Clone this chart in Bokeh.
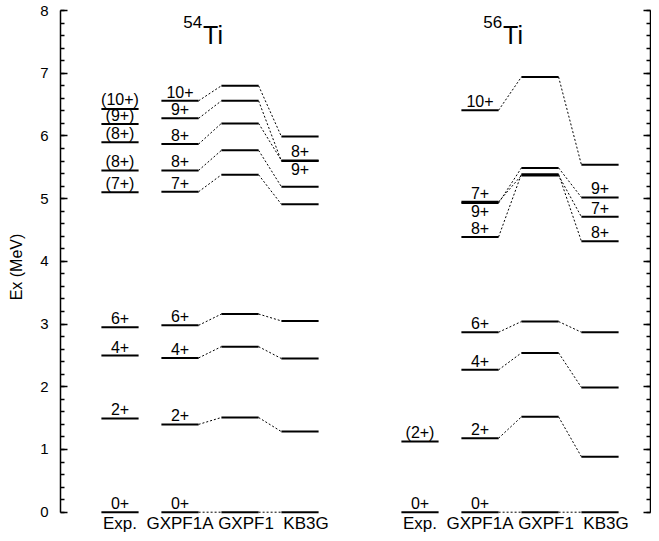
from bokeh.plotting import figure
from bokeh.models import ColumnDataSource, Range1d, LinearAxis, SingleIntervalTicker
from bokeh.embed import file_html
from bokeh.resources import INLINE
from bokeh.core.properties import value

# ---------------- data ----------------
models = ["Exp.", "GXPF1A", "GXPF1", "KB3G"]

# 54Ti
ti54_exp_E = [0.0, 1.495, 2.497, 2.949, 5.10, 5.45, 5.90, 6.19, 6.43]
ti54_exp_J = ["0+", "2+", "4+", "6+", "(7+)", "(8+)", "(8+)", "(9+)", "(10+)"]
ti54_gxpf1a_E = [0.0, 1.40, 2.46, 2.98, 5.11, 5.45, 5.87, 6.28, 6.56]
ti54_gxpf1_E = [0.0, 1.51, 2.64, 3.16, 5.38, 5.77, 6.20, 6.56, 6.80]
ti54_kb3g_E = [0.0, 1.285, 2.45, 3.05, 4.91, 5.19, 5.61, 5.60, 5.99]
ti54_gxpf1a_lab = ["0+", "2+", "4+", "6+", "7+", "8+", "8+", "9+", "10+"]
ti54_gxpf1_lab = ["", "", "", "", "", "", "", "", ""]
ti54_kb3g_lab = ["", "", "", "", "", "", "8+", "9+", ""]

# 56Ti
ti56_exp_E = [0.0, 1.128]
ti56_exp_J = ["0+", "(2+)"]
ti56_gxpf1a_E = [0.0, 1.18, 2.27, 2.87, 4.95, 4.39, 4.93, 6.41]
ti56_gxpf1_E = [0.0, 1.52, 2.54, 3.04, 5.37, 5.39, 5.49, 6.94]
ti56_kb3g_E = [0.0, 0.885, 1.99, 2.87, 4.71, 4.32, 5.02, 5.54]
ti56_gxpf1a_lab = ["0+", "2+", "4+", "6+", "7+", "8+", "9+", "10+"]
ti56_gxpf1_lab = ["", "", "", "", "", "", "", ""]
ti56_kb3g_lab = ["", "", "", "", "7+", "8+", "9+", ""]

titles = [("54", "Ti"), ("56", "Ti")]

# ---------------- style ----------------
FONT = "Liberation Sans"
HW = 0.31            # half width of a level bar (column units)
GROUP_BASE = [0, 5]  # first column of each nucleus
LABEL_SHIFT = [0.0, 0.0, 0.1, 0.1]

nuclei = [
    (ti54_exp_E, ti54_exp_J,
     [(ti54_gxpf1a_E, ti54_gxpf1a_lab), (ti54_gxpf1_E, ti54_gxpf1_lab), (ti54_kb3g_E, ti54_kb3g_lab)]),
    (ti56_exp_E, ti56_exp_J,
     [(ti56_gxpf1a_E, ti56_gxpf1a_lab), (ti56_gxpf1_E, ti56_gxpf1_lab), (ti56_kb3g_E, ti56_kb3g_lab)]),
]

lev = dict(x0=[], x1=[], y=[])
lab_up = dict(x=[], y=[], text=[])
lab_dn = dict(x=[], y=[], text=[])
con = dict(x0=[], x1=[], y0=[], y1=[])
cat = dict(x=[], y=[], text=[])


def add_column(col, energies, labels):
    for e in energies:
        lev["x0"].append(col - HW)
        lev["x1"].append(col + HW)
        lev["y"].append(e)
    for i, (e, t) in enumerate(zip(energies, labels)):
        if not t:
            continue
        # a labelled level nearly coincident with a higher labelled one gets its label below
        below = any(j != i and labels[j] and 0 < energies[j] - e < 0.05 for j in range(len(energies)))
        d = lab_dn if below else lab_up
        d["x"].append(col)
        d["y"].append(e)
        d["text"].append(t)


for base, (expE, expJ, calcs) in zip(GROUP_BASE, nuclei):
    add_column(base, expE, expJ)
    for k, (E, L) in enumerate(calcs):
        add_column(base + 1 + k, E, L)
    for k in range(len(calcs) - 1):
        Ea = calcs[k][0]
        Eb = calcs[k + 1][0]
        for a, b in zip(Ea, Eb):
            con["x0"].append(base + 1 + k + HW)
            con["x1"].append(base + 2 + k - HW)
            con["y0"].append(a)
            con["y1"].append(b)
    for k, m in enumerate(models):
        cat["x"].append(base + k + LABEL_SHIFT[k])
        cat["y"].append(0.0)
        cat["text"].append(m)

p = figure(width=651, height=533,
           x_range=Range1d(-0.9917, 8.8417), y_range=Range1d(-0.3397, 8.1595),
           output_backend="svg", toolbar_location=None, x_axis_location=None,
           min_border_left=60, min_border_right=1, min_border_top=0, min_border_bottom=0)
p.outline_line_color = None
p.grid.visible = False
p.background_fill_color = "white"

p.segment(x0="x0", x1="x1", y0="y0", y1="y1", source=ColumnDataSource(con),
          line_color="black", line_width=1, line_dash="2 2")
p.segment(x0="x0", x1="x1", y0="y", y1="y", source=ColumnDataSource(lev),
          line_color="black", line_width=2)
p.text(x="x", y="y", text="text", source=ColumnDataSource(lab_up),
       text_font=value(FONT), text_font_size="16px", text_color="black",
       text_align="center", text_baseline="middle", y_offset=-9)
p.text(x="x", y="y", text="text", source=ColumnDataSource(lab_dn),
       text_font=value(FONT), text_font_size="16px", text_color="black",
       text_align="center", text_baseline="middle", y_offset=8)
p.text(x="x", y="y", text="text", source=ColumnDataSource(cat),
       text_font=value(FONT), text_font_size="17px", text_color="black",
       text_align="center", text_baseline="middle", y_offset=11)

# nucleus titles
sup_x = [b + 1.37 for b in GROUP_BASE]
main_x = [b + 1.385 for b in GROUP_BASE]
p.text(x=sup_x, y=[7.82, 7.82], text=[t[0] for t in titles],
       text_font=value(FONT), text_font_size="17px", text_color="black",
       text_align="right", text_baseline="middle")
p.text(x=main_x, y=[7.614, 7.614], text=[t[1] for t in titles],
       text_font=value(FONT), text_font_size="25px", text_color="black",
       text_align="left", text_baseline="middle")

# left axis
ya = p.yaxis[0]
ya.ticker = SingleIntervalTicker(interval=1, num_minor_ticks=5)
ya.bounds = (0, 8)
ya.axis_label = "Ex (MeV)"
ya.axis_label_text_font = FONT
ya.axis_label_text_font_size = "16px"
ya.axis_label_text_font_style = "normal"
ya.axis_label_text_color = "black"
ya.axis_label_standoff = 12
ya.major_label_text_font = FONT
ya.major_label_text_font_size = "15px"
ya.major_label_text_color = "black"
ya.major_label_standoff = 12
ya.axis_line_width = 1.5
ya.major_tick_line_width = 1.5
ya.minor_tick_line_width = 1.5
ya.major_tick_in = 7
ya.major_tick_out = 0
ya.minor_tick_in = 4
ya.minor_tick_out = 0

# right axis (no labels)
ra = LinearAxis(ticker=SingleIntervalTicker(interval=1, num_minor_ticks=5), bounds=(0, 8),
                major_label_overrides={t: "" for t in range(9)},
                major_label_standoff=0, major_label_text_font_size="1px",
                axis_line_width=1.5, major_tick_line_width=1.5, minor_tick_line_width=1.5,
                major_tick_in=7, major_tick_out=0, minor_tick_in=4, minor_tick_out=0)
p.add_layout(ra, "right")

open("out.html", "w").write(file_html(p, INLINE))
